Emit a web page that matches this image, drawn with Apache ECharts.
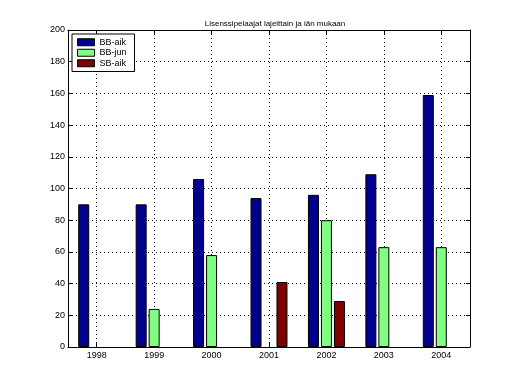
<!DOCTYPE html>
<html><head><meta charset="utf-8">
<script src="https://cdn.jsdelivr.net/npm/echarts@6/dist/echarts.min.js"></script>
<style>html,body{margin:0;padding:0;background:#fff}#c{width:520px;height:390px}</style>
</head><body><div id="c"></div>
<script>
var title = 'Lisenssipelaajat lajeittain ja iän mukaan';
var years = ['1998','1999','2000','2001','2002','2003','2004'];
var seriesNames = ['BB-aik','BB-jun','SB-aik'];
var bbAik = [90, 90, 106, 94, 96, 109, 159];
var bbJun = [null, 24, 58, null, 80, 63, 63];
var sbAik = [null, null, null, 41, 29, null, null];
var colors = ['#00008f', '#80ff80', '#800000'];
var yTicks = [0, 200, 20];

var font = 'Liberation Sans, Arial, sans-serif';
var chart = echarts.init(document.getElementById('c'), null, {renderer:'canvas'});
function mk(name, data, color){
  return {name:name, type:'bar', data:data, barWidth:11, barGap:'18%',
    itemStyle:{color:color, borderColor:'#000', borderWidth:1}, animation:false, z:3};
}
var dotted = {color:'#000', type:[1,3], width:1};
chart.setOption({
  animation:false,
  title:{text:title, left:270, textAlign:'center', top:15,
    textStyle:{fontSize:8, fontWeight:'normal', color:'#000', fontFamily:font}},
  legend:{data:seriesNames, orient:'vertical', left:72, top:34, padding:[3,8,3,5], z:10,
    itemWidth:17, itemHeight:7, itemGap:0, borderColor:'#000', borderWidth:1,
    backgroundColor:'#fff', icon:'rect',
    textStyle:{fontSize:9, color:'#000', fontFamily:font, lineHeight:10.5},
    itemStyle:{borderColor:'#000', borderWidth:1}},
  grid:{left:68, right:50, top:30, bottom:43, containLabel:false},
  xAxis:[{type:'category', data:years, position:'bottom',
    axisLine:{onZero:false, lineStyle:{color:'#000', width:1}},
    axisTick:{show:true, inside:true, alignWithLabel:true, length:4, lineStyle:{color:'#000'}},
    axisLabel:{fontSize:9, color:'#000', fontFamily:font, margin:4},
    splitLine:{show:false}},
    {type:'category', data:years, position:'top',
    axisLine:{onZero:false, lineStyle:{color:'#000', width:1}},
    axisTick:{show:true, inside:true, alignWithLabel:true, length:4, lineStyle:{color:'#000'}},
    axisLabel:{show:false}, splitLine:{show:false}}],
  yAxis:[{type:'value', min:yTicks[0], max:yTicks[1], interval:yTicks[2], position:'left',
    axisLine:{show:true, onZero:false, lineStyle:{color:'#000', width:1}},
    axisTick:{show:true, inside:true, length:4, lineStyle:{color:'#000'}},
    axisLabel:{fontSize:9, color:'#000', fontFamily:font, margin:3},
    splitLine:{show:true, lineStyle:dotted}},
    {type:'value', min:yTicks[0], max:yTicks[1], interval:yTicks[2], position:'right',
    axisLine:{show:true, onZero:false, lineStyle:{color:'#000', width:1}},
    axisTick:{show:true, inside:true, length:4, lineStyle:{color:'#000'}},
    axisLabel:{show:false}, splitLine:{show:false}}],
  series:[mk(seriesNames[0], bbAik, colors[0]), mk(seriesNames[1], bbJun, colors[1]), mk(seriesNames[2], sbAik, colors[2]),
    {type:'line', data:[], z:0, zlevel:0, silent:true, legendHoverLink:false,
     markLine:{silent:true, z:0, zlevel:0, symbol:['none','none'], animation:false, label:{show:false},
       lineStyle:dotted, emphasis:{disabled:true},
       data:years.map(function(y){return {xAxis:y};})}}]
});
</script></body></html>
